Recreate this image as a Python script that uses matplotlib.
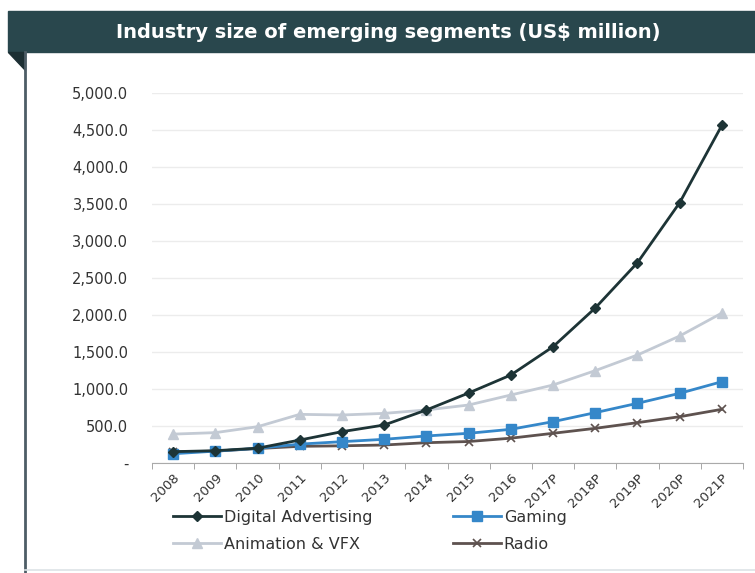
import matplotlib.pyplot as plt
import matplotlib.patches as patches
from matplotlib.lines import Line2D
import numpy as np

years = ['2008', '2009', '2010', '2011', '2012', '2013', '2014', '2015', '2016',
         '2017P', '2018P', '2019P', '2020P', '2021P']
digital = [153, 166, 200, 310, 423, 513, 716, 945, 1188, 1570, 2093, 2705, 3515, 4560]
gaming = [125, 160, 198, 255, 288, 320, 365, 401, 455, 558, 680, 806, 941, 1098]
animation = [390, 410, 490, 657, 648, 670, 716, 783, 918, 1053, 1247, 1458, 1715, 2025]
radio = [150, 160, 195, 225, 232, 243, 274, 290, 335, 401, 468, 545, 625, 725]
yticks = [0, 500, 1000, 1500, 2000, 2500, 3000, 3500, 4000, 4500, 5000]

plt.rcParams['font.family'] = ['DejaVu Sans']
fig = plt.figure(figsize=(7.55, 5.73), dpi=100)
fig.patch.set_facecolor('white')

# header band and frame
hdr = '#29474d'
fig.add_artist(patches.Rectangle((8/755, 1-52/573), 747/755, 41/573, transform=fig.transFigure,
                                 color=hdr, zorder=0))
fig.add_artist(patches.Polygon([(8/755, 1-52/573), (25/755, 1-52/573), (25/755, 1-70/573)],
                               closed=True, transform=fig.transFigure, color='#1c2f33'))
fig.add_artist(Line2D([25/755, 25/755], [0, 1-52/573], transform=fig.transFigure,
                      color='#4d5d66', lw=2))
fig.add_artist(Line2D([25/755, 1], [3/573, 3/573], transform=fig.transFigure,
                      color='#dde3e6', lw=1.2))
fig.text(388/755, 1-32/573, 'Industry size of emerging segments (US$ million)', color='white',
         fontsize=14, fontweight='bold', ha='center', va='center')

ax = fig.add_axes([152/755, 1-463/573, 591/755, (463-92.7)/573])
x = np.arange(len(years))
ax.plot(x, animation, color='#c3cad4', lw=2, marker='^', ms=7, label='Animation & VFX', zorder=2)
ax.plot(x, radio, color='#5e524f', lw=2, marker='x', ms=6, mew=1.2, label='Radio', zorder=3)
ax.plot(x, gaming, color='#3587c9', lw=2, marker='s', ms=7, label='Gaming', zorder=4)
ax.plot(x, digital, color='#1d3436', lw=2, marker='D', ms=5, label='Digital Advertising', zorder=5)

ax.set_xlim(-0.5, len(years) - 0.5)
ax.set_ylim(0, 5000)
ax.set_yticks(yticks)
ax.set_yticklabels(['-'] + [f'{v:,.1f}' for v in yticks[1:]], fontsize=10.5, color='#333333')
ax.set_xticks(x)
ax.set_xticklabels(years, rotation=45, ha='right', rotation_mode='anchor', fontsize=9.5,
                   color='#333333')
ax.set_xticks(np.arange(-0.5, len(years)), minor=True)
ax.tick_params(axis='x', which='major', length=0, pad=6)
ax.tick_params(axis='x', which='minor', length=4, color='#999999', direction='out')
ax.tick_params(axis='y', length=0, pad=17)
ax.grid(axis='y', color='#ececec', lw=1)
ax.set_axisbelow(True)
for s in ['top', 'right', 'left']:
    ax.spines[s].set_visible(False)
ax.spines['bottom'].set_color('#aaaaaa')

h, l = ax.get_legend_handles_labels()
order = [3, 0, 2, 1]
fig.legend([h[i] for i in order], [l[i] for i in order], ncol=2, loc='center',
           bbox_to_anchor=(370/755, 1-531/573), frameon=False, fontsize=11.5,
           handlelength=3.0, handletextpad=0.2, columnspacing=5.0, labelspacing=0.75,
           labelcolor='#333333')

fig.savefig('out.png', dpi=100, facecolor='white')
